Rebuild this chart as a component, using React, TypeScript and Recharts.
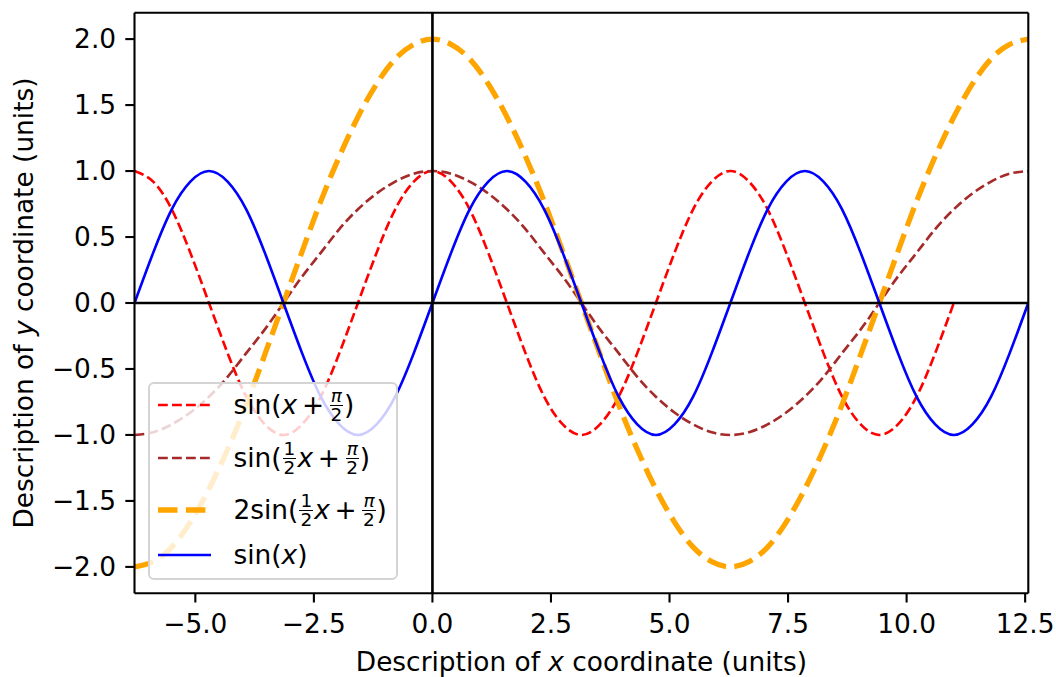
import React from 'react';
import { LineChart, Line, XAxis, YAxis, ReferenceLine, Legend } from 'recharts';

// x positions (units), step of about 0.3927 from -2π to 4π
const xValues = [
  -6.283, -5.890, -5.498, -5.105, -4.712, -4.320, -3.927, -3.534,
  -3.142, -2.749, -2.356, -1.963, -1.571, -1.178, -0.785, -0.393,
  0.000, 0.393, 0.785, 1.178, 1.571, 1.963, 2.356, 2.749,
  3.142, 3.534, 3.927, 4.320, 4.712, 5.105, 5.498, 5.890,
  6.283, 6.676, 7.069, 7.461, 7.854, 8.247, 8.639, 9.032,
  9.425, 9.817, 10.210, 10.603, 10.996, 11.388, 11.781, 12.174,
  12.566,
];

// red dashed: sin(x + π/2), stops at x ≈ 11
const seriesRed: (number | null)[] = [
  1, 0.92, 0.71, 0.38, 0, -0.38, -0.71, -0.92,
  -1, -0.92, -0.71, -0.38, 0, 0.38, 0.71, 0.92,
  1, 0.92, 0.71, 0.38, 0, -0.38, -0.71, -0.92,
  -1, -0.92, -0.71, -0.38, 0, 0.38, 0.71, 0.92,
  1, 0.92, 0.71, 0.38, 0, -0.38, -0.71, -0.92,
  -1, -0.92, -0.71, -0.38, 0, null, null, null,
  null,
];

// brown dashed: sin(x/2 + π/2)
const seriesBrown = [
  -1, -0.98, -0.92, -0.83, -0.71, -0.56, -0.38, -0.2,
  0, 0.2, 0.38, 0.56, 0.71, 0.83, 0.92, 0.98,
  1, 0.98, 0.92, 0.83, 0.71, 0.56, 0.38, 0.2,
  0, -0.2, -0.38, -0.56, -0.71, -0.83, -0.92, -0.98,
  -1, -0.98, -0.92, -0.83, -0.71, -0.56, -0.38, -0.2,
  0, 0.2, 0.38, 0.56, 0.71, 0.83, 0.92, 0.98,
  1,
];

// orange thick dashed: 2sin(x/2 + π/2)
const seriesOrange = [
  -2, -1.96, -1.85, -1.66, -1.41, -1.11, -0.77, -0.39,
  0, 0.39, 0.77, 1.11, 1.41, 1.66, 1.85, 1.96,
  2, 1.96, 1.85, 1.66, 1.41, 1.11, 0.77, 0.39,
  0, -0.39, -0.77, -1.11, -1.41, -1.66, -1.85, -1.96,
  -2, -1.96, -1.85, -1.66, -1.41, -1.11, -0.77, -0.39,
  0, 0.39, 0.77, 1.11, 1.41, 1.66, 1.85, 1.96,
  2,
];

// blue solid: sin(x)
const seriesBlue = [
  0, 0.38, 0.71, 0.92, 1, 0.92, 0.71, 0.38,
  0, -0.38, -0.71, -0.92, -1, -0.92, -0.71, -0.38,
  0, 0.38, 0.71, 0.92, 1, 0.92, 0.71, 0.38,
  0, -0.38, -0.71, -0.92, -1, -0.92, -0.71, -0.38,
  0, 0.38, 0.71, 0.92, 1, 0.92, 0.71, 0.38,
  0, -0.38, -0.71, -0.92, -1, -0.92, -0.71, -0.38,
  0,
];

const xTicks = [-5, -2.5, 0, 2.5, 5, 7.5, 10, 12.5];
const yTicks = [-2, -1.5, -1, -0.5, 0, 0.5, 1, 1.5, 2];
const xDomain: [number, number] = [-6.2832, 12.5664];
const yDomain: [number, number] = [-2.2, 2.2];

const data = xValues.map((x, i) => ({
  x,
  red: seriesRed[i],
  brown: seriesBrown[i],
  orange: seriesOrange[i],
  blue: seriesBlue[i],
}));

const FONT = 'DejaVu Sans';
const FS = 26.4;

const fmt = (v: number) => (v < 0 ? '\u2212' : '') + Math.abs(v).toFixed(1);

const Frac = ({ n, d, italicN }: { n: string; d: string; italicN?: boolean }) => (
  <span
    style={{
      display: 'inline-flex',
      flexDirection: 'column',
      alignItems: 'center',
      fontSize: '0.7em',
      lineHeight: 1,
      verticalAlign: 'middle',
      margin: '0 1px',
      position: 'relative',
      top: '-0.05em',
    }}
  >
    <span style={{ borderBottom: '1.3px solid #000', padding: '0 1px', fontStyle: italicN ? 'italic' : 'normal' }}>{n}</span>
    <span>{d}</span>
  </span>
);

const Plus = () => <span style={{ margin: '0 0.18em' }}>+</span>;
const I = ({ children }: { children: React.ReactNode }) => <span style={{ fontStyle: 'italic' }}>{children}</span>;

const legendItems = [
  {
    color: '#ff0000', width: 2.64, dash: '9.8 4.2',
    label: (<>sin(<I>x</I><Plus /><Frac n="π" d="2" italicN />)</>),
  },
  {
    color: '#a52a2a', width: 2.64, dash: '9.8 4.2',
    label: (<>sin(<Frac n="1" d="2" /><I>x</I><Plus /><Frac n="π" d="2" italicN />)</>),
  },
  {
    color: '#ffa500', width: 5.3, dash: '19.5 8.4',
    label: (<>2sin(<Frac n="1" d="2" /><I>x</I><Plus /><Frac n="π" d="2" italicN />)</>),
  },
  {
    color: '#0000ff', width: 2.64, dash: undefined as string | undefined,
    label: (<>sin(<I>x</I>)</>),
  },
];
const rowTops = [1, 54, 106, 151];

const LegendBox = () => (
  <div
    style={{
      position: 'relative',
      width: 250,
      height: 198,
      boxSizing: 'border-box',
      background: 'rgba(255,255,255,0.8)',
      border: '2px solid #d4d4d4',
      borderRadius: 6,
      fontFamily: FONT,
      fontSize: FS,
      color: '#000',
    }}
  >
    {legendItems.map((it, i) => (
      <div key={i} style={{ position: 'absolute', left: 0, top: rowTops[i], height: 40, width: 246 }}>
        <svg width={53} height={12} style={{ position: 'absolute', left: 8, top: 14 }}>
          <line x1={0} y1={6} x2={53} y2={6} stroke={it.color} strokeWidth={it.width} strokeDasharray={it.dash} />
        </svg>
        <div style={{ position: 'absolute', left: 83.5, top: 0, height: 40, lineHeight: '40px', whiteSpace: 'nowrap' }}>
          {it.label}
        </div>
      </div>
    ))}
  </div>
);

const XLabel = (props: any) => {
  const vb = props.viewBox || { x: 134.5, y: 593.3, width: 894, height: 83.7 };
  return (
    <text x={vb.x + vb.width / 2} y={vb.y + 77.7} textAnchor="middle" fontFamily={FONT} fontSize={FS} fill="#000">
      Description of <tspan fontStyle="italic">x</tspan> coordinate (units)
    </text>
  );
};

const YLabel = (props: any) => {
  const vb = props.viewBox || { x: 0, y: 12.7, width: 134.5, height: 581 };
  const cx = 33;
  const cy = vb.y + vb.height / 2;
  return (
    <text x={cx} y={cy} textAnchor="middle" transform={`rotate(-90, ${cx}, ${cy})`} fontFamily={FONT} fontSize={FS} fill="#000">
      Description of <tspan fontStyle="italic">y</tspan> coordinate (units)
    </text>
  );
};

export default function App() {
  const axisStroke = { stroke: '#000', strokeWidth: 2.1 };
  return (
    <div style={{ position: 'absolute', left: 0, top: 0, width: 1056, height: 677, background: '#fff' }}>
      <LineChart
        width={1056}
        height={677}
        data={data}
        margin={{ top: 12.7, right: 27.7, bottom: 0, left: 0 }}
        style={{ fontFamily: FONT }}
      >
        <XAxis
          dataKey="x"
          type="number"
          domain={xDomain}
          ticks={xTicks}
          interval={0}
          allowDataOverflow
          height={83.7}
          tickSize={9.2}
          tickMargin={12}
          tickFormatter={fmt}
          tick={{ fill: '#000', fontSize: FS, fontFamily: FONT }}
          axisLine={axisStroke}
          tickLine={axisStroke}
          label={<XLabel />}
        />
        <YAxis
          type="number"
          domain={yDomain}
          ticks={yTicks}
          interval={0}
          allowDataOverflow
          width={134.5}
          tickSize={9.2}
          tickMargin={9.2}
          tickFormatter={fmt}
          tick={{ fill: '#000', fontSize: FS, fontFamily: FONT }}
          axisLine={axisStroke}
          tickLine={axisStroke}
          label={<YLabel />}
        />
        <Line dataKey="red" type="natural" stroke="#ff0000" strokeWidth={2.64} strokeDasharray="9.8 4.2" dot={false} activeDot={false} isAnimationActive={false} />
        <Line dataKey="brown" type="natural" stroke="#a52a2a" strokeWidth={2.64} strokeDasharray="9.8 4.2" dot={false} activeDot={false} isAnimationActive={false} />
        <Line dataKey="orange" type="natural" stroke="#ffa500" strokeWidth={5.3} strokeDasharray="19.5 8.4" dot={false} activeDot={false} isAnimationActive={false} />
        <Line dataKey="blue" type="natural" stroke="#0000ff" strokeWidth={2.64} dot={false} activeDot={false} isAnimationActive={false} />
        <ReferenceLine x={0} stroke="#000" strokeWidth={2.64} />
        <ReferenceLine y={0} stroke="#000" strokeWidth={2.64} />
        <ReferenceLine x={xDomain[1]} stroke="#000" strokeWidth={2.1} />
        <ReferenceLine y={yDomain[1]} stroke="#000" strokeWidth={2.1} />
        <Legend
          layout="vertical"
          align="center"
          verticalAlign="middle"
          wrapperStyle={{ left: 148, top: 382, width: 250, height: 198 }}
          content={() => <LegendBox />}
        />
      </LineChart>
    </div>
  );
}
